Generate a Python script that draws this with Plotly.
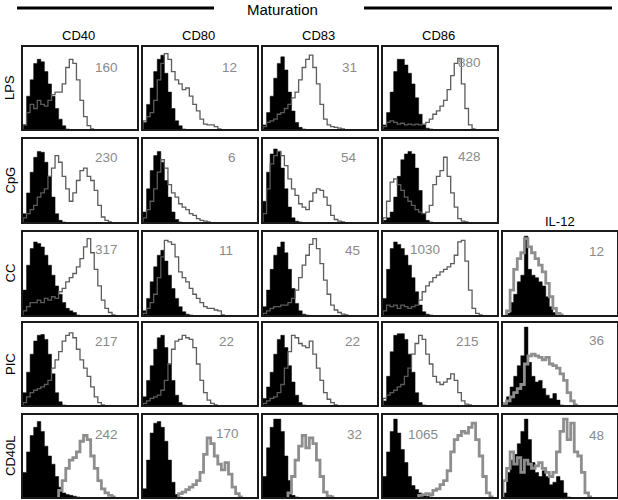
import plotly.graph_objects as go

W, H = 618, 500

stimuli = ["LPS", "CpG", "CC", "PIC", "CD40L"]
markers = ["CD40", "CD80", "CD83", "CD86", "IL-12"]

# MFI values printed in each panel
mfi_lps = [160, 12, 31, 880]
mfi_cpg = [230, 6, 54, 428]
mfi_cc = [317, 11, 45, 1030, 12]
mfi_pic = [217, 22, 22, 215, 36]
mfi_cd40l = [242, 170, 32, 1065, 48]

# histogram heights (% of panel height), 32 log-scale bins per panel
# *_iso = filled control, *_stain = outlined stain
lps_cd40_iso = [5, 40, 60, 80, 85, 82, 70, 55, 40, 25, 12, 4, 0]
lps_cd40_stain = [5, 20, 30, 25, 35, 30, 28, 35, 42, 45, 45, 55, 75, 85, 80, 60, 35, 15, 4, 0]
lps_cd80_iso = [8, 30, 50, 70, 85, 90, 68, 45, 25, 10, 4, 0]
lps_cd80_stain = [10, 15, 20, 35, 60, 80, 92, 85, 70, 60, 55, 48, 50, 40, 30, 22, 12, 6, 5, 5, 3, 0]
lps_cd83_iso = [5, 20, 40, 62, 80, 88, 72, 45, 22, 8, 2, 0]
lps_cd83_stain = [3, 8, 10, 12, 18, 20, 25, 30, 38, 45, 60, 75, 85, 90, 75, 55, 30, 12, 5, 3, 2, 1, 0]
lps_cd86_iso = [5, 20, 45, 70, 85, 85, 78, 68, 55, 38, 18, 5, 1, 0]
lps_cd86_stain = [3, 8, 10, 8, 6, 7, 5, 6, 5, 6, 5, 6, 8, 12, 18, 22, 28, 35, 48, 65, 80, 86, 55, 25, 5, 0]

cpg_cd40_iso = [10, 35, 60, 78, 85, 84, 72, 55, 30, 10, 2, 0]
cpg_cd40_stain = [5, 10, 15, 20, 30, 35, 40, 55, 65, 80, 72, 55, 40, 25, 35, 50, 62, 65, 55, 50, 38, 20, 6, 2, 0]
cpg_cd80_iso = [12, 40, 62, 80, 85, 72, 50, 30, 12, 3, 0]
cpg_cd80_stain = [5, 15, 25, 40, 60, 75, 65, 45, 35, 30, 22, 18, 15, 10, 8, 4, 2, 1, 0]
cpg_cd83_iso = [25, 60, 82, 88, 85, 65, 40, 18, 5, 1, 0]
cpg_cd83_stain = [10, 40, 70, 80, 85, 80, 68, 52, 40, 32, 22, 18, 15, 25, 35, 40, 38, 30, 20, 8, 3, 1, 0]
cpg_cd86_iso = [2, 5, 12, 30, 55, 75, 82, 85, 82, 65, 38, 10, 2, 0]
cpg_cd86_stain = [5, 25, 48, 52, 45, 38, 30, 25, 20, 15, 12, 10, 12, 20, 45, 55, 62, 78, 55, 35, 18, 4, 1, 0]

cc_cd40_iso = [30, 60, 80, 88, 86, 82, 72, 60, 48, 35, 25, 15, 8, 5, 3, 0]
cc_cd40_stain = [5, 10, 15, 15, 18, 15, 20, 18, 22, 20, 28, 32, 40, 45, 50, 58, 68, 82, 92, 75, 55, 35, 18, 8, 3, 0]
cc_cd80_iso = [5, 20, 40, 58, 72, 78, 65, 48, 32, 20, 10, 4, 1, 0]
cc_cd80_stain = [2, 8, 15, 25, 45, 70, 90, 88, 85, 70, 52, 45, 40, 32, 25, 20, 15, 10, 8, 8, 6, 5, 0]
cc_cd83_iso = [10, 30, 55, 72, 82, 88, 75, 55, 32, 14, 5, 1, 0]
cc_cd83_stain = [2, 5, 8, 10, 10, 12, 12, 15, 20, 30, 45, 60, 72, 85, 92, 80, 62, 42, 25, 12, 6, 3, 1, 0]
cc_cd86_iso = [20, 55, 80, 88, 85, 80, 72, 60, 45, 28, 12, 4, 1, 0]
cc_cd86_stain = [5, 12, 10, 12, 8, 12, 10, 8, 10, 12, 18, 28, 35, 40, 45, 48, 52, 55, 58, 62, 72, 88, 90, 65, 30, 8, 2, 0]
cc_il12_iso = [0, 2, 15, 25, 40, 48, 95, 55, 48, 45, 40, 35, 22, 10, 3, 0]
cc_il12_stain = [0, 5, 30, 55, 68, 75, 92, 82, 75, 68, 60, 52, 38, 22, 8, 2, 0]

pic_cd40_iso = [15, 40, 62, 78, 85, 86, 80, 62, 38, 15, 4, 0]
pic_cd40_stain = [3, 10, 15, 18, 20, 22, 25, 30, 45, 55, 65, 78, 85, 88, 82, 68, 55, 45, 35, 22, 10, 3, 0]
pic_cd80_iso = [10, 30, 48, 68, 82, 85, 70, 50, 30, 12, 3, 0]
pic_cd80_stain = [2, 5, 8, 10, 12, 18, 30, 50, 68, 78, 80, 85, 82, 80, 70, 50, 30, 15, 6, 2, 0]
pic_cd83_iso = [8, 22, 40, 62, 80, 85, 70, 48, 28, 12, 3, 0]
pic_cd83_stain = [2, 5, 8, 10, 15, 25, 45, 65, 85, 82, 75, 72, 70, 78, 62, 45, 30, 15, 7, 3, 0]
pic_cd86_iso = [5, 35, 65, 85, 87, 87, 80, 62, 40, 15, 3, 0]
pic_cd86_stain = [8, 12, 15, 18, 22, 25, 35, 45, 62, 75, 85, 80, 62, 50, 35, 28, 25, 28, 32, 38, 30, 15, 5, 1, 0]
pic_il12_iso = [3, 10, 22, 35, 48, 60, 95, 52, 35, 28, 30, 20, 12, 8, 14, 6, 0]
pic_il12_stain = [2, 5, 10, 15, 20, 25, 50, 60, 62, 60, 58, 55, 58, 50, 48, 45, 38, 30, 15, 5, 0]

cd40l_cd40_iso = [30, 55, 75, 85, 92, 80, 62, 50, 40, 25, 12, 5, 3, 2, 1, 0]
cd40l_cd40_stain = [0, 0, 0, 0, 0, 0, 0, 0, 0, 0, 8, 20, 35, 45, 48, 55, 68, 75, 70, 50, 35, 20, 10, 5, 2, 0]
cd40l_cd80_iso = [10, 45, 78, 90, 92, 85, 68, 45, 18, 3, 0]
cd40l_cd80_stain = [0, 0, 0, 0, 0, 0, 0, 0, 0, 0, 4, 6, 9, 12, 15, 20, 30, 52, 72, 65, 50, 40, 33, 42, 28, 12, 4, 0]
cd40l_cd83_iso = [25, 60, 85, 95, 95, 80, 50, 20, 2, 0]
cd40l_cd83_stain = [0, 0, 0, 0, 0, 0, 0, 5, 25, 45, 62, 75, 60, 72, 65, 45, 25, 6, 1, 0]
cd40l_cd86_iso = [25, 55, 80, 95, 78, 58, 42, 25, 14, 9, 5, 3, 1, 0]
cd40l_cd86_stain = [0, 0, 0, 0, 0, 0, 0, 0, 0, 0, 2, 3, 4, 3, 8, 10, 15, 20, 32, 55, 70, 75, 80, 78, 85, 90, 70, 50, 25, 5, 0]
cd40l_il12_iso = [5, 30, 45, 52, 65, 80, 95, 70, 42, 30, 25, 32, 25, 15, 18, 25, 20, 5, 0]
cd40l_il12_stain = [20, 35, 55, 40, 48, 30, 45, 40, 35, 38, 42, 35, 30, 25, 30, 55, 80, 95, 70, 90, 55, 50, 30, 5, 0]

panels = {
    (0, 0): (lps_cd40_iso, lps_cd40_stain), (0, 1): (lps_cd80_iso, lps_cd80_stain),
    (0, 2): (lps_cd83_iso, lps_cd83_stain), (0, 3): (lps_cd86_iso, lps_cd86_stain),
    (1, 0): (cpg_cd40_iso, cpg_cd40_stain), (1, 1): (cpg_cd80_iso, cpg_cd80_stain),
    (1, 2): (cpg_cd83_iso, cpg_cd83_stain), (1, 3): (cpg_cd86_iso, cpg_cd86_stain),
    (2, 0): (cc_cd40_iso, cc_cd40_stain), (2, 1): (cc_cd80_iso, cc_cd80_stain),
    (2, 2): (cc_cd83_iso, cc_cd83_stain), (2, 3): (cc_cd86_iso, cc_cd86_stain),
    (2, 4): (cc_il12_iso, cc_il12_stain),
    (3, 0): (pic_cd40_iso, pic_cd40_stain), (3, 1): (pic_cd80_iso, pic_cd80_stain),
    (3, 2): (pic_cd83_iso, pic_cd83_stain), (3, 3): (pic_cd86_iso, pic_cd86_stain),
    (3, 4): (pic_il12_iso, pic_il12_stain),
    (4, 0): (cd40l_cd40_iso, cd40l_cd40_stain), (4, 1): (cd40l_cd80_iso, cd40l_cd80_stain),
    (4, 2): (cd40l_cd83_iso, cd40l_cd83_stain), (4, 3): (cd40l_cd86_iso, cd40l_cd86_stain),
    (4, 4): (cd40l_il12_iso, cd40l_il12_stain),
}
mfi = [mfi_lps, mfi_cpg, mfi_cc, mfi_pic, mfi_cd40l]

# layout (pixels)
col_x = [(23, 137), (143, 257), (263, 377), (383, 497), (503, 617)]
row_y = [(47, 129), (139, 222), (232, 315), (323, 405), (415, 497)]
label_pos = [
    [(0.85, 20), (0.84, 20), (0.84, 20), (0.88, 15)],
    [(0.85, 18), (0.83, 18), (0.84, 18), (0.88, 17)],
    [(0.85, 17), (0.81, 18), (0.87, 18), (0.52, 17), (0.90, 19)],
    [(0.85, 18), (0.82, 18), (0.87, 18), (0.86, 18), (0.90, 17)],
    [(0.85, 19), (0.86, 18), (0.89, 19), (0.50, 19), (0.90, 20)],
]
NB = 32
FONT = "Liberation Sans, Arial, sans-serif"


def step_xy(vals):
    start = 0
    while start < len(vals) and vals[start] == 0:
        start += 1
    xs = [start / NB]
    ys = [0]
    for i in range(start, len(vals)):
        xs.append(i / NB)
        ys.append(vals[i])
    xs.append(len(vals) / NB)
    ys.append(0)
    return xs, ys


fig = go.Figure()
annotations = []
k = 0
for (r, c), (iso, stain) in panels.items():
    k += 1
    xa = "x" if k == 1 else f"x{k}"
    ya = "y" if k == 1 else f"y{k}"
    x0, x1 = col_x[c]
    y0, y1 = row_y[r]
    ax_common = dict(showline=True, mirror=True, linewidth=2, linecolor="#1a1a1a",
                     showgrid=False, zeroline=False, showticklabels=False, ticks="",
                     fixedrange=True)
    fig.layout[("xaxis" if k == 1 else f"xaxis{k}")] = dict(
        domain=[x0 / W, x1 / W], range=[0, 1], anchor=ya, **ax_common)
    fig.layout[("yaxis" if k == 1 else f"yaxis{k}")] = dict(
        domain=[1 - y1 / H, 1 - y0 / H], range=[0, 100], anchor=xa, **ax_common)

    bx, by = step_xy(iso)
    fig.add_trace(go.Scatter(x=bx, y=by, xaxis=xa, yaxis=ya, mode="lines",
                             line=dict(shape="hv", color="black", width=0.5),
                             fill="tozeroy", fillcolor="black", hoverinfo="skip"))
    thick = (r == 4 or c == 4)
    gx, gy = step_xy(stain)
    fig.add_trace(go.Scatter(x=gx, y=gy, xaxis=xa, yaxis=ya, mode="lines",
                             line=dict(shape="hv", color="#8e8e8e" if thick else "#5c5c5c",
                                       width=2.8 if thick else 1.3),
                             hoverinfo="skip"))

    fx, dy = label_pos[r][c]
    annotations.append(dict(text=str(mfi[r][c]), xref=f"{xa} domain", yref="paper",
                            x=fx, y=1 - (y0 + dy) / H, xanchor="right", yanchor="middle",
                            showarrow=False, font=dict(size=13.5, color="#8a8a8a", family=FONT)))

# column headers
for c, m in enumerate(markers[:4]):
    x0, x1 = col_x[c]
    annotations.append(dict(text=m, xref="paper", yref="paper", x=((x0 + x1) / 2 - 2) / W,
                            y=1 - 36 / H, showarrow=False, xanchor="center", yanchor="middle",
                            font=dict(size=13, color="black", family=FONT)))
annotations.append(dict(text=markers[4], xref="paper", yref="paper",
                        x=(sum(col_x[4]) / 2) / W, y=1 - 222 / H, showarrow=False,
                        xanchor="center", yanchor="middle",
                        font=dict(size=13, color="black", family=FONT)))

# row labels
for r, s in enumerate(stimuli):
    y0, y1 = row_y[r]
    annotations.append(dict(text=s, xref="paper", yref="paper", x=10 / W,
                            y=1 - ((y0 + y1) / 2) / H, textangle=-90, showarrow=False,
                            xanchor="center", yanchor="middle",
                            font=dict(size=13, color="black", family=FONT)))

annotations.append(dict(text="Maturation", xref="paper", yref="paper", x=282 / W,
                        y=1 - 9 / H, showarrow=False, xanchor="center", yanchor="middle",
                        font=dict(size=15, color="black", family=FONT)))

shapes = [
    dict(type="line", xref="paper", yref="paper", x0=17 / W, x1=214 / W,
         y0=1 - 8 / H, y1=1 - 8 / H, line=dict(color="black", width=3)),
    dict(type="line", xref="paper", yref="paper", x0=364 / W, x1=612 / W,
         y0=1 - 8 / H, y1=1 - 8 / H, line=dict(color="black", width=3)),
]

fig.update_layout(width=W, height=H, margin=dict(l=0, r=0, t=0, b=0),
                  paper_bgcolor="white", plot_bgcolor="white", showlegend=False,
                  annotations=annotations, shapes=shapes, font=dict(family=FONT))

# drop the default page margin so the 618x500 figure fills the window exactly
fig.write_html("out.html", config={"displayModeBar": False},
               post_script="document.body.style.margin='0';")
